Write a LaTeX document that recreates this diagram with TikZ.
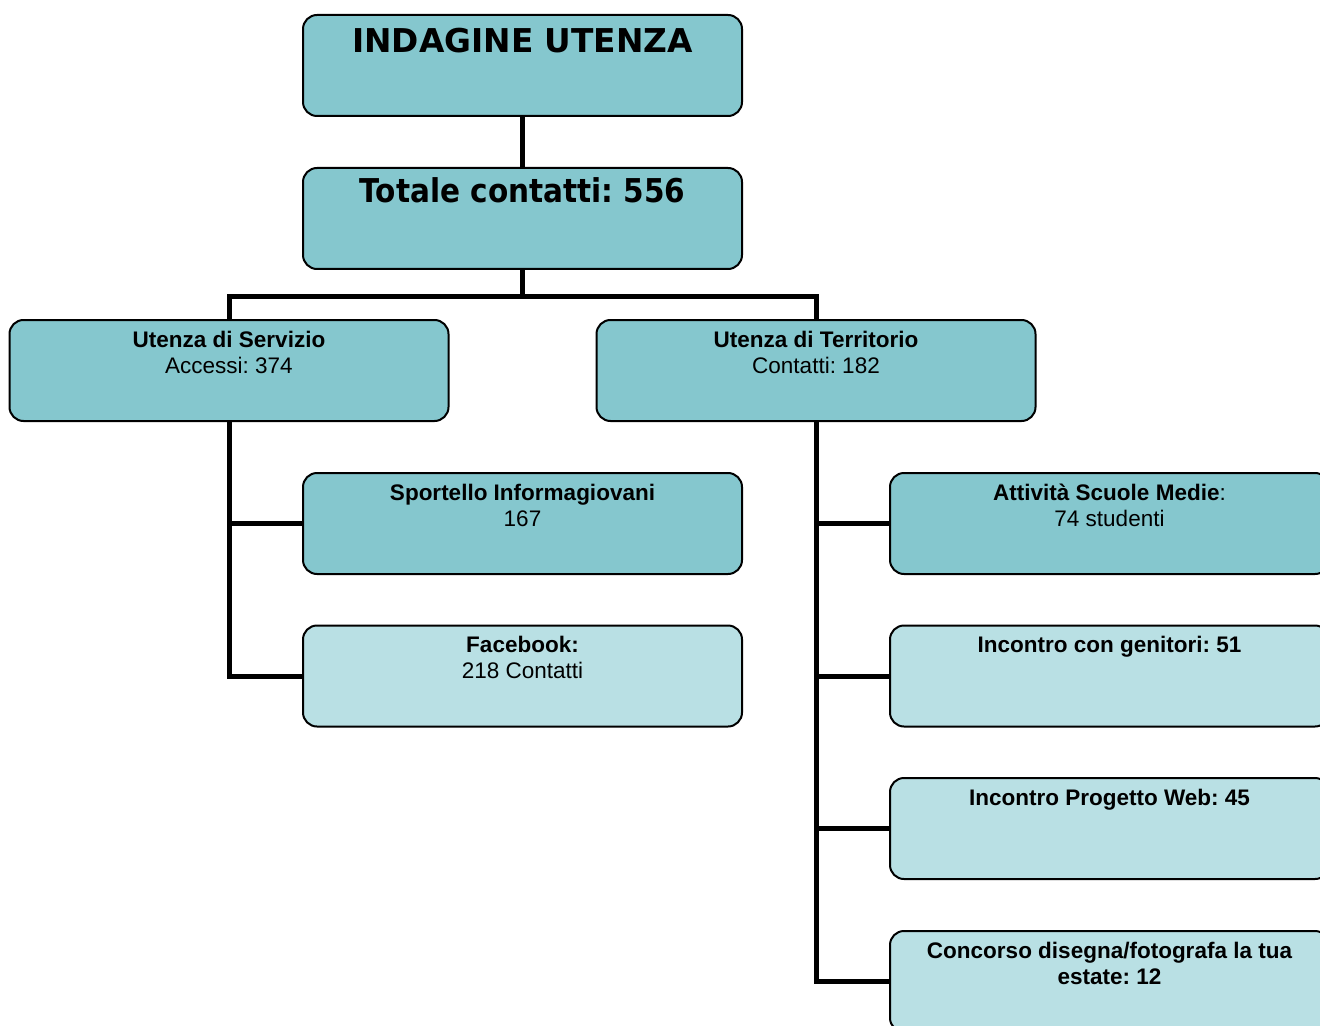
\documentclass[tikz,border=0pt]{standalone}
\usepackage{graphicx}
\usepackage{fontspec}
\setmainfont{Liberation Sans}
\newfontfamily\titlefont{DejaVu Sans}
\definecolor{darkteal}{RGB}{133,199,206}
\definecolor{lightteal}{RGB}{185,224,228}
\frenchspacing
\begin{document}
\frenchspacing
\begin{tikzpicture}[x=0.5pt,y=-0.5pt,
  box/.style={draw=black,line width=1pt,rounded corners=7pt,minimum width=219.5pt,minimum height=50.5pt,inner sep=0pt,outer sep=0pt},
  dark/.style={box,fill=darkteal},
  light/.style={box,fill=lightteal},
  txt/.style={anchor=north,align=center,inner sep=0pt,font=\fontsize{11.25}{13}\selectfont},
  big/.style={anchor=base,inner sep=0pt,font=\titlefont\bfseries\fontsize{16.4}{19}\selectfont},
  conn/.style={line width=2.5pt}]
\useasboundingbox (0,0) rectangle (1320,1026);
\clip (0,0) rectangle (1320,1026);
\fill[white] (0,0) rectangle (1320,1026);
% box positions
\coordinate (ptop) at (522.5,65.5);
\coordinate (ptot) at (522.5,218.5);
\coordinate (pserv) at (229,370.5);
\coordinate (pterr) at (816,370.5);
\coordinate (psport) at (522.5,523.5);
\coordinate (pfb) at (522.5,676);
\coordinate (patt) at (1109.5,523.5);
\coordinate (pgen) at (1109.5,676);
\coordinate (pweb) at (1109.5,828.5);
\coordinate (pconc) at (1109.5,981.5);
% invisible anchors for connectors
\node[box,draw=none] (top) at (ptop) {};
\node[box,draw=none] (tot) at (ptot) {};
\node[box,draw=none] (serv) at (pserv) {};
\node[box,draw=none] (terr) at (pterr) {};
\node[box,draw=none] (sport) at (psport) {};
\node[box,draw=none] (fb) at (pfb) {};
\node[box,draw=none] (att) at (patt) {};
\node[box,draw=none] (gen) at (pgen) {};
\node[box,draw=none] (web) at (pweb) {};
\node[box,draw=none] (conc) at (pconc) {};
% connectors
\draw[conn] (top.south) -- (tot.north);
\draw[conn] (tot.south) -- ++(0,28) coordinate (bus);
\draw[conn] (serv.north) |- (bus) -| (terr.north);
\draw[conn] (serv.south) |- (sport.west);
\draw[conn] (serv.south) |- (fb.west);
\draw[conn] (terr.south) |- (att.west);
\draw[conn] (terr.south) |- (gen.west);
\draw[conn] (terr.south) |- (web.west);
\draw[conn] (terr.south) |- (conc.west);
% boxes
\node[dark] (topbox) at (ptop) {};
\node[dark] (totbox) at (ptot) {};
\node[dark] (servbox) at (pserv) {};
\node[dark] (terrbox) at (pterr) {};
\node[dark] (sportbox) at (psport) {};
\node[light] (fbbox) at (pfb) {};
\node[dark] (attbox) at (patt) {};
\node[light] (genbox) at (pgen) {};
\node[light] (webbox) at (pweb) {};
\node[light] (concbox) at (pconc) {};
% texts
\node[big] (toptxt) at (522.5,53) {INDAGINE UTENZA};
\node[big] (tottxt) at (522.5,203) {\scalebox{0.9}[1]{Totale contatti: 556}};
\node[txt] (servtxt) at ([yshift=-3.5pt]servbox.north) {{\bfseries\rule{0pt}{10pt}Utenza di Servizio}\\Accessi: 374};
\node[txt] (terrtxt) at ([yshift=-3.5pt]terrbox.north) {{\bfseries\rule{0pt}{10pt}Utenza di Territorio}\\Contatti: 182};
\node[txt] (sporttxt) at ([yshift=-3.5pt]sportbox.north) {{\bfseries\rule{0pt}{10pt}Sportello Informagiovani}\\167};
\node[txt] (fbtxt) at ([yshift=-3.5pt]fbbox.north) {{\bfseries\rule{0pt}{10pt}Facebook:}\\218 Contatti};
\node[txt] (atttxt) at ([yshift=-3.5pt]attbox.north) {{\bfseries\rule{0pt}{10pt}Attività Scuole Medie}:\\74 studenti};
\node[txt] (gentxt) at ([yshift=-3.5pt]genbox.north) {{\bfseries\rule{0pt}{10pt}Incontro con genitori: 51}};
\node[txt] (webtxt) at ([yshift=-3.5pt]webbox.north) {{\bfseries\rule{0pt}{10pt}Incontro Progetto Web: 45}};
\node[txt] (conctxt) at ([yshift=-3.5pt]concbox.north) {{\bfseries\rule{0pt}{10pt}Concorso disegna/fotografa la tua}\\{\bfseries estate: 12}};
\end{tikzpicture}
\end{document}
